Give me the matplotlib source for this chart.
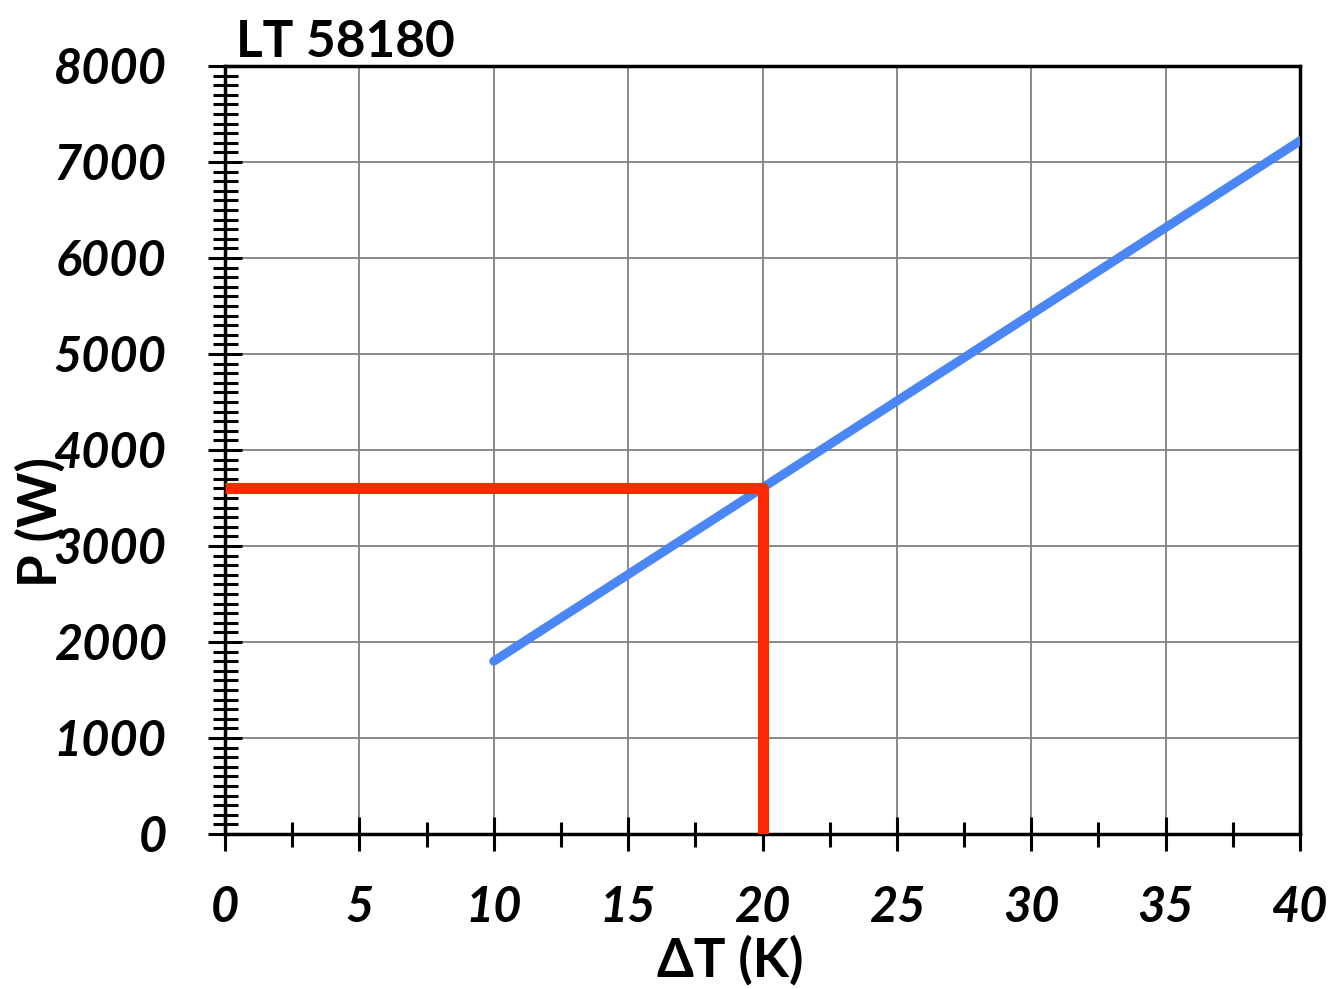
import numpy as np
import matplotlib.pyplot as plt
from matplotlib.ticker import MultipleLocator

# data
dt = [10, 40]
power = [1800, 7220]
sel_dt = 20
sel_p = 3600

plt.rcParams['font.family'] = ['Lato', 'DejaVu Sans']

fig = plt.figure(figsize=(13.43, 9.89), dpi=100)
ax = fig.add_axes([225 / 1343, 155 / 989, 1075 / 1343, 768 / 989])

ax.plot(dt, power, color='#4a86f5', lw=6.5, solid_capstyle='round', zorder=3)
ax.plot([0, sel_dt, sel_dt], [sel_p, sel_p, 0], color='#ff2a00', lw=8,
        solid_joinstyle='round', solid_capstyle='butt', zorder=4)

ax.set_xlim(0, 40)
ax.set_ylim(0, 8000)
ax.xaxis.set_major_locator(MultipleLocator(5))
ax.xaxis.set_minor_locator(MultipleLocator(2.5))
ax.yaxis.set_major_locator(MultipleLocator(1000))
ax.yaxis.set_minor_locator(MultipleLocator(100))
ax.grid(True, which='major', color='#808080', lw=1.3)
ax.set_axisbelow(True)

for s in ax.spines.values():
    s.set_linewidth(2.5)
    s.set_color('black')

ax.tick_params(which='major', direction='inout', length=24, width=2.2)
ax.tick_params(which='minor', direction='inout', length=18, width=2.2)
ax.tick_params(axis='y', which='major', pad=30)
ax.tick_params(axis='x', which='major', pad=25)

for lab in ax.get_xticklabels() + ax.get_yticklabels():
    lab.set_fontsize(35)
    lab.set_fontweight('bold')
    lab.set_fontstyle('italic')

ax.set_xlabel('ΔT (K)', fontsize=38, fontweight='bold')
ax.xaxis.set_label_coords((730 - 225) / 1075, (834 - 960) / 768)
ax.xaxis.label.set_va('center')
ax.set_ylabel('P (W)', fontsize=38, fontweight='bold')
ax.yaxis.set_label_coords((40 - 225) / 1075, (834 - 522) / 768)
ax.yaxis.label.set_va('center')
ax.text(0.01, 1.0, 'LT 58180', transform=ax.transAxes, fontsize=37,
        fontweight='bold', ha='left', va='bottom')

fig.savefig('out.png', dpi=100)
